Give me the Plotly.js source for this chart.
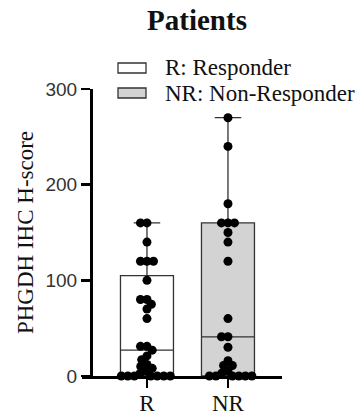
<!DOCTYPE html>
<html>
<head>
<meta charset="utf-8">
<script src="https://cdn.plot.ly/plotly-3.0.1.min.js"></script>
<style>html,body{margin:0;padding:0;background:#fff;}#chart{width:359px;height:419px;}</style>
</head>
<body>
<div id="chart"></div>
<script>
// ---- data ----
const categories = ['R', 'NR'];
const legendNames = ['R: Responder', 'NR: Non-Responder'];
const rValues = [160,160,140,120,120,120,100,80,80,75,70,60,31,31,27,21,17,12,10,8,5,3,0,0,0,0,0,0,0];
const nrValues = [270,240,180,160,160,160,150,140,120,60,41,41,30,16,11,11,5,3,0,0,0,0,0,0];
const boxMin = [0, 0];
const boxQ1 = [0, 0];
const boxMedian = [27, 41];
const boxQ3 = [105, 160];
const boxMax = [160, 270];
const yTicks = [0, 100, 200, 300];

// ---- layout constants ----
const W = 359, H = 419;
const M = {l: 82, r: 77, t: 89, b: 43};
const plotW = W - M.l - M.r, plotH = H - M.t - M.b;
const xRange = [-0.802, 1.667];
const yRange = [0, 300];
const boxFills = ['#ffffff', '#d3d3d3'];
const boxLine = '#333333';
const dotSize = 9;
const swarmSpacing = 6.5; // px between neighbour centres

// beeswarm offsets (in px) computed from the values
function swarm(values) {
  const pxPerY = plotH / (yRange[1] - yRange[0]);
  const items = values.map((v, i) => ({v, i, y: v * pxPerY})).sort((a, b) => b.v - a.v);
  const placed = [];
  const offsets = new Array(values.length).fill(0);
  const s = swarmSpacing;
  items.forEach(it => {
    const cands = [0];
    placed.forEach(p => {
      const dy = Math.abs(p.y - it.y);
      if (dy < s) {
        const dx = Math.sqrt(s * s - dy * dy);
        cands.push(p.x + dx, p.x - dx);
      }
    });
    const ok = cands.filter(c => placed.every(p => Math.hypot(p.x - c, p.y - it.y) >= s - 1e-6));
    ok.sort((a, b) => Math.abs(a) - Math.abs(b) || a - b);
    const x = ok.length ? ok[0] : 0;
    placed.push({x, y: it.y});
    offsets[it.i] = x;
  });
  return offsets;
}

const pxPerX = plotW / (xRange[1] - xRange[0]);
const groups = [rValues, nrValues];
const traces = [];
groups.forEach((vals, k) => {
  traces.push({
    type: 'box', name: legendNames[k], x: [k], showlegend: false,
    q1: [boxQ1[k]], median: [boxMedian[k]], q3: [boxQ3[k]],
    lowerfence: [boxMin[k]], upperfence: [boxMax[k]],
    width: 53 / pxPerX, whiskerwidth: 0.5,
    fillcolor: boxFills[k], line: {color: boxLine, width: 1.3},
    boxpoints: false, hoverinfo: 'skip'
  });
});
groups.forEach((vals, k) => {
  const off = swarm(vals);
  traces.push({
    type: 'scatter', mode: 'markers', showlegend: false, hoverinfo: 'skip',
    x: vals.map((v, i) => k + off[i] / pxPerX), y: vals,
    marker: {color: '#000000', size: dotSize},
    cliponaxis: false
  });
});

// legend drawn as paper-anchored shapes + text (keeps the reference's wide swatches)
const px2x = p => (p - M.l) / plotW;
const px2y = p => 1 - (p - M.t) / plotH;
const legendRowsY = [68, 93];
const shapes = [], annotations = [];
legendNames.forEach((name, k) => {
  const cy = legendRowsY[k];
  shapes.push({type: 'rect', xref: 'paper', yref: 'paper',
    x0: px2x(118), x1: px2x(146), y0: px2y(cy - 5), y1: px2y(cy + 5),
    fillcolor: boxFills[k], line: {color: boxLine, width: 1.3}});
  annotations.push({xref: 'paper', yref: 'paper', x: px2x(163), y: px2y(cy),
    xanchor: 'left', yanchor: 'middle', showarrow: false, text: name,
    font: {family: 'Liberation Serif, Times New Roman, serif', size: 23, color: '#111'}});
});

const serif = 'Liberation Serif, Times New Roman, serif';
const layout = {
  width: W, height: H, margin: M,
  paper_bgcolor: '#ffffff', plot_bgcolor: '#ffffff',
  showlegend: false,
  shapes, annotations,
  title: {text: '<b>Patients</b>', font: {family: serif, size: 29, color: '#111'},
          xref: 'container', x: 197 / W, xanchor: 'center',
          yref: 'container', y: 1 - 10 / H, yanchor: 'top'},
  xaxis: {range: xRange, tickvals: [0, 1], ticktext: categories,
          showline: true, linecolor: '#000', linewidth: 2.5, showgrid: false, zeroline: false,
          ticks: 'outside', ticklen: 9, tickwidth: 2.5, tickcolor: '#000', ticklabelstandoff: -4,
          tickfont: {family: serif, size: 23, color: '#111'}, fixedrange: true},
  yaxis: {range: yRange, tickvals: yTicks, anchor: 'free', position: 9 / plotW,
          showline: true, linecolor: '#000', linewidth: 2.5, showgrid: false, zeroline: false,
          ticks: 'outside', ticklen: 9, tickwidth: 2.5, tickcolor: '#000',
          tickfont: {family: 'Liberation Sans, Arial, sans-serif', size: 19, color: '#333'},
          title: {text: 'PHGDH IHC H-score', font: {family: serif, size: 23, color: '#111'}, standoff: 4},
          fixedrange: true}
};
Plotly.newPlot('chart', traces, layout, {displayModeBar: false, staticPlot: true});
</script>
</body>
</html>
